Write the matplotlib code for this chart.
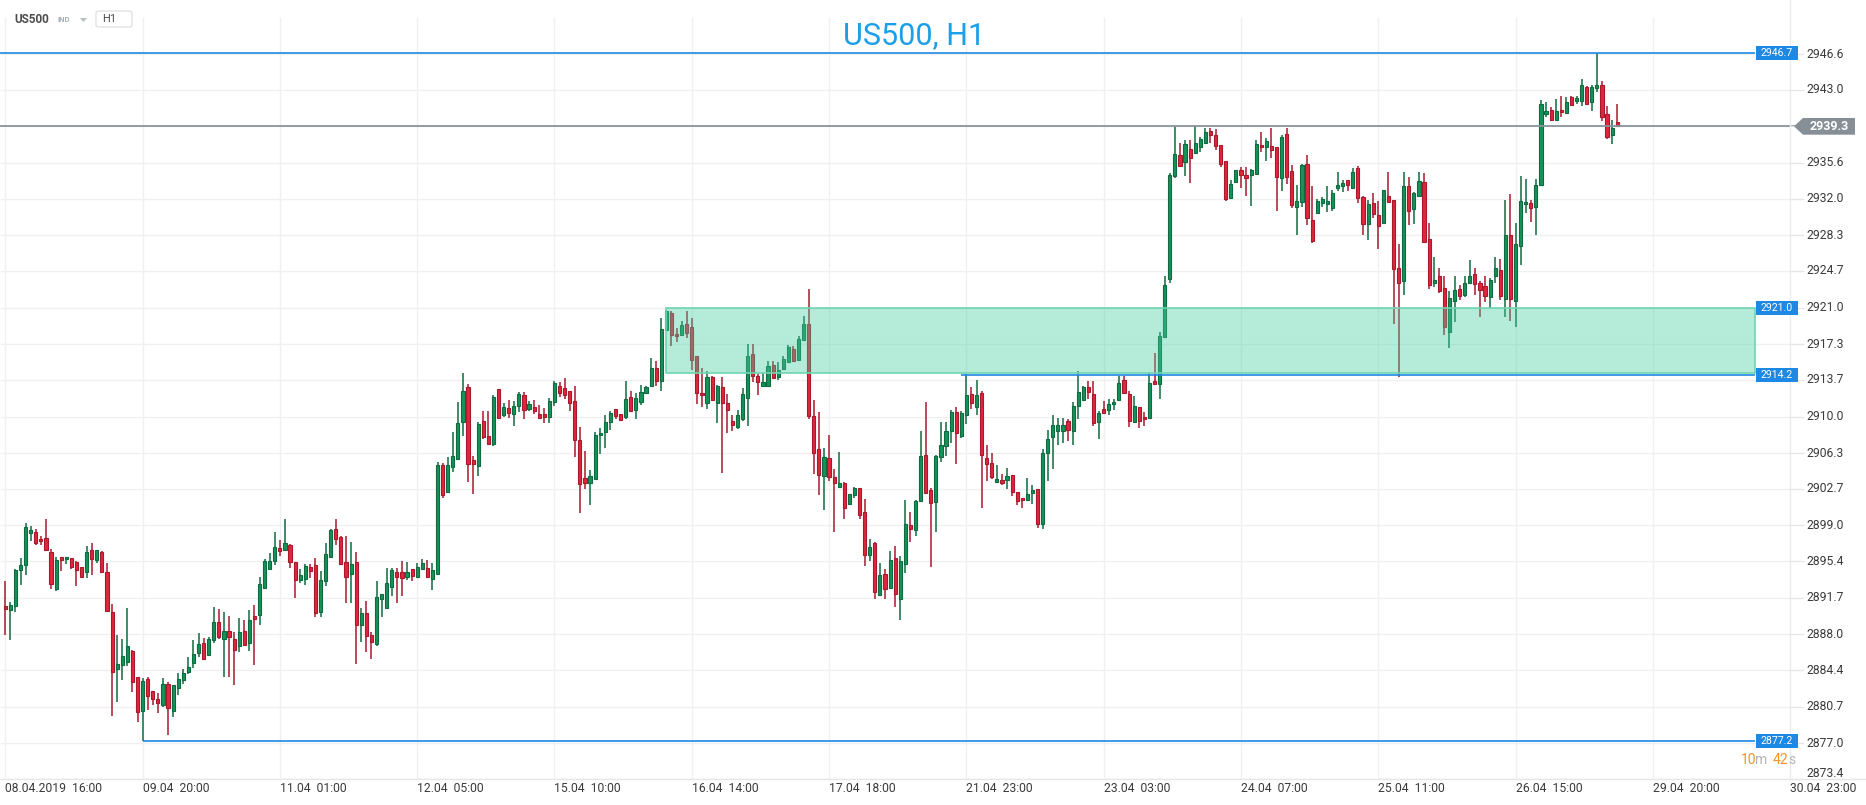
import matplotlib
matplotlib.use("Agg")
import matplotlib.pyplot as plt
import numpy as np
from matplotlib.patches import Rectangle, Polygon, FancyBboxPatch
from matplotlib.transforms import blended_transform_factory
from matplotlib.lines import Line2D

# ---------------- data (US500, H1 candles) ----------------
opens = [2890.9, 2890.5, 2890.9, 2894.5, 2895.0, 2898.2, 2898.3, 2897.6, 2897.7, 2896.3,
         2892.6, 2895.8, 2895.6, 2895.7, 2895.3, 2894.8, 2894.3, 2896.5, 2895.5, 2896.3,
         2894.3, 2890.3, 2884.5, 2884.9, 2885.2, 2886.3, 2883.7, 2880.3, 2883.5, 2882.3,
         2881.5, 2880.9, 2883.0, 2880.3, 2882.6, 2883.4, 2884.2, 2885.1, 2886.1, 2887.1,
         2885.9, 2887.4, 2889.3, 2887.5, 2888.3, 2887.5, 2886.8, 2888.3, 2887.1, 2889.9,
         2890.0, 2892.7, 2894.6, 2895.4, 2896.7, 2896.5, 2897.0, 2895.3, 2893.5, 2893.6,
         2894.8, 2895.0, 2890.3, 2893.4, 2895.8, 2898.6, 2897.8, 2895.3, 2894.1, 2895.3,
         2889.0, 2890.2, 2887.9, 2887.0, 2891.6, 2890.7, 2892.8, 2894.3, 2894.3, 2893.8,
         2894.6, 2893.8, 2894.6, 2894.7, 2893.6, 2894.1, 2905.1, 2902.4, 2904.9, 2905.7,
         2909.4, 2913.0, 2905.6, 2905.0, 2909.5, 2908.0, 2907.2, 2912.8, 2910.2, 2910.9,
         2910.3, 2911.1, 2912.2, 2910.8, 2911.0, 2910.3, 2910.3, 2910.0, 2911.5, 2913.1,
         2912.9, 2912.6, 2911.6, 2907.6, 2903.8, 2903.3, 2903.7, 2908.1, 2908.4, 2909.4,
         2910.8, 2910.3, 2910.0, 2912.0, 2910.7, 2911.5, 2912.4, 2913.1, 2914.9, 2913.6,
         2918.7, 2920.5, 2918.3, 2918.2, 2919.3, 2919.0, 2916.1, 2912.4, 2911.4, 2914.0,
         2911.4, 2913.0, 2911.4, 2909.5, 2908.9, 2909.7, 2911.9, 2916.3, 2914.1, 2913.1,
         2913.1, 2915.2, 2914.0, 2914.8, 2915.5, 2916.8, 2915.7, 2917.7, 2919.3, 2910.1,
         2906.7, 2904.0, 2905.8, 2903.9, 2902.9, 2903.3, 2901.2, 2902.1, 2902.8, 2900.4,
         2896.0, 2897.2, 2892.0, 2894.1, 2892.7, 2895.7, 2891.6, 2895.1, 2899.0, 2898.5,
         2901.5, 2906.1, 2902.6, 2901.4, 2905.9, 2907.0, 2908.5, 2910.5, 2908.0, 2910.2,
         2912.3, 2911.0, 2912.4, 2905.8, 2905.3, 2903.4, 2903.6, 2903.6, 2904.1, 2902.4,
         2901.8, 2901.6, 2902.3, 2902.7, 2899.1, 2906.3, 2907.9, 2908.5, 2908.5, 2909.5,
         2908.5, 2911.1, 2911.7, 2913.0, 2912.3, 2909.4, 2910.8, 2910.7, 2911.3, 2911.7,
         2913.7, 2912.3, 2909.4, 2911.0, 2910.0, 2909.9, 2913.6, 2913.3, 2918.0, 2923.9,
         2934.3, 2936.4, 2935.7, 2937.0, 2936.6, 2937.2, 2937.6, 2938.8, 2938.4, 2937.4,
         2935.8, 2932.1, 2933.7, 2934.9, 2934.4, 2934.4, 2934.5, 2937.4, 2937.2, 2937.3,
         2937.2, 2934.1, 2938.5, 2934.8, 2931.2, 2931.7, 2935.5, 2929.8, 2930.5, 2931.6,
         2931.5, 2931.1, 2933.1, 2933.3, 2933.9, 2933.1, 2935.1, 2932.2, 2929.4, 2931.6,
         2930.3, 2929.5, 2932.3, 2931.9, 2925.0, 2923.7, 2933.3, 2931.0, 2932.3, 2933.7,
         2927.9, 2923.5, 2924.2, 2923.0, 2918.5, 2921.7, 2922.9, 2922.3, 2923.5, 2924.4,
         2923.5, 2923.2, 2922.1, 2924.2, 2924.8, 2921.9, 2928.3, 2921.7, 2927.2, 2931.5,
         2931.6, 2931.2, 2933.4, 2940.5, 2941.0, 2939.9, 2940.9, 2940.6, 2942.3, 2941.9,
         2941.9, 2943.3, 2941.8, 2943.2, 2943.5, 2940.5, 2938.4, 2939.7]
highs = [2893.4, 2891.3, 2894.6, 2895.7, 2899.2, 2898.9, 2898.6, 2897.9, 2899.7, 2896.6,
         2895.8, 2895.8, 2895.8, 2895.7, 2895.4, 2894.8, 2896.9, 2897.2, 2896.5, 2896.4,
         2895.2, 2891.1, 2887.9, 2887.5, 2890.7, 2886.4, 2883.7, 2883.6, 2883.7, 2882.3,
         2882.1, 2883.6, 2883.2, 2882.9, 2884.1, 2884.5, 2885.7, 2887.4, 2888.1, 2887.6,
         2887.7, 2890.8, 2890.6, 2890.3, 2889.9, 2888.2, 2889.7, 2889.5, 2890.5, 2891.0,
         2893.8, 2895.6, 2896.2, 2898.3, 2897.5, 2899.7, 2897.1, 2895.3, 2894.6, 2895.1,
         2895.1, 2895.7, 2894.4, 2897.2, 2898.6, 2899.7, 2897.9, 2897.9, 2897.3, 2896.3,
         2890.7, 2891.4, 2888.2, 2893.4, 2892.1, 2894.7, 2894.7, 2894.7, 2895.4, 2895.3,
         2894.6, 2895.2, 2895.6, 2895.5, 2895.2, 2905.4, 2905.3, 2905.9, 2908.4, 2911.5,
         2914.4, 2913.3, 2906.0, 2909.4, 2910.6, 2910.6, 2912.2, 2912.8, 2911.4, 2911.7,
         2911.6, 2912.5, 2912.5, 2911.6, 2911.7, 2911.2, 2910.9, 2911.9, 2913.6, 2913.5,
         2913.9, 2912.6, 2913.1, 2908.9, 2906.5, 2904.6, 2908.4, 2908.8, 2910.2, 2910.6,
         2910.8, 2910.3, 2913.6, 2912.6, 2912.4, 2913.2, 2913.1, 2915.9, 2915.6, 2919.9,
         2920.8, 2920.7, 2918.9, 2919.6, 2920.7, 2919.9, 2916.1, 2914.9, 2914.6, 2914.1,
         2913.2, 2914.0, 2912.3, 2910.2, 2910.7, 2912.9, 2917.3, 2917.3, 2914.3, 2914.4,
         2915.6, 2915.6, 2915.5, 2916.1, 2917.2, 2917.1, 2918.1, 2920.1, 2922.9, 2911.7,
         2910.5, 2906.8, 2908.1, 2904.7, 2906.4, 2903.4, 2902.2, 2902.9, 2902.8, 2901.7,
         2897.6, 2897.3, 2895.2, 2894.6, 2896.4, 2896.9, 2895.9, 2901.6, 2900.4, 2901.6,
         2908.5, 2911.5, 2902.8, 2906.1, 2909.4, 2909.4, 2910.7, 2911.0, 2910.6, 2914.3,
         2913.0, 2913.7, 2912.6, 2907.1, 2906.3, 2905.1, 2904.2, 2904.8, 2904.1, 2902.4,
         2901.8, 2903.8, 2903.1, 2902.7, 2906.7, 2908.6, 2910.2, 2909.9, 2909.9, 2909.7,
         2911.5, 2914.6, 2913.1, 2913.6, 2913.6, 2910.6, 2911.6, 2911.8, 2911.8, 2914.1,
         2914.1, 2912.6, 2912.1, 2911.0, 2910.5, 2914.4, 2916.4, 2918.5, 2924.2, 2934.6,
         2939.2, 2937.6, 2937.9, 2937.9, 2939.3, 2938.2, 2939.1, 2939.1, 2939.0, 2937.4,
         2935.8, 2933.9, 2934.9, 2935.2, 2935.2, 2935.0, 2937.9, 2938.7, 2938.1, 2939.1,
         2937.2, 2938.4, 2939.1, 2935.4, 2933.4, 2935.5, 2936.4, 2933.3, 2932.0, 2932.2,
         2933.3, 2932.9, 2934.7, 2933.9, 2933.9, 2935.1, 2935.3, 2932.3, 2931.9, 2932.6,
         2931.8, 2932.9, 2934.7, 2931.9, 2927.4, 2934.7, 2934.2, 2932.7, 2934.7, 2934.6,
         2929.5, 2926.1, 2925.0, 2924.2, 2922.7, 2924.2, 2923.3, 2924.2, 2925.8, 2925.0,
         2923.7, 2924.2, 2924.0, 2926.1, 2925.9, 2931.9, 2932.5, 2929.5, 2934.3, 2934.0,
         2931.9, 2934.0, 2942.0, 2941.8, 2941.3, 2942.1, 2942.4, 2942.3, 2942.4, 2942.4,
         2944.1, 2943.4, 2943.5, 2946.7, 2943.9, 2941.4, 2939.9, 2941.6]
lows = [2887.9, 2887.4, 2890.3, 2893.0, 2894.0, 2897.4, 2897.0, 2897.0, 2896.4, 2892.6,
        2892.4, 2894.4, 2895.1, 2894.6, 2892.9, 2893.7, 2893.7, 2894.0, 2895.2, 2894.2,
        2890.3, 2879.8, 2881.2, 2883.4, 2884.8, 2882.2, 2879.2, 2877.2, 2880.4, 2880.9,
        2880.1, 2880.7, 2877.8, 2879.7, 2881.9, 2883.0, 2884.0, 2884.6, 2885.7, 2885.4,
        2885.8, 2887.1, 2887.5, 2883.7, 2883.7, 2882.9, 2886.2, 2886.8, 2886.3, 2884.9,
        2889.0, 2892.6, 2894.5, 2895.0, 2895.9, 2896.4, 2894.7, 2891.7, 2893.2, 2893.0,
        2893.7, 2889.8, 2889.8, 2892.9, 2895.7, 2897.0, 2895.0, 2891.2, 2891.2, 2885.0,
        2887.2, 2886.2, 2885.5, 2886.8, 2889.8, 2890.7, 2891.9, 2891.2, 2891.9, 2893.5,
        2893.4, 2893.7, 2894.6, 2893.7, 2892.5, 2894.0, 2901.8, 2902.3, 2904.4, 2905.7,
        2908.0, 2903.4, 2902.2, 2904.0, 2907.7, 2907.2, 2907.0, 2909.8, 2910.0, 2909.9,
        2909.0, 2910.5, 2909.8, 2910.6, 2910.3, 2909.9, 2909.3, 2909.3, 2911.1, 2912.0,
        2911.8, 2910.6, 2905.9, 2900.3, 2902.7, 2901.1, 2903.7, 2906.2, 2906.8, 2908.6,
        2909.8, 2909.6, 2909.8, 2910.5, 2909.8, 2911.2, 2912.3, 2913.0, 2913.1, 2912.6,
        2918.7, 2917.1, 2917.5, 2918.2, 2917.9, 2914.7, 2911.3, 2911.0, 2910.8, 2911.6,
        2909.3, 2904.3, 2908.3, 2908.5, 2908.7, 2909.5, 2909.0, 2913.5, 2912.2, 2913.1,
        2913.1, 2913.9, 2913.7, 2914.7, 2915.5, 2915.5, 2915.7, 2917.7, 2909.7, 2904.2,
        2902.1, 2900.6, 2903.5, 2898.3, 2902.9, 2899.7, 2901.1, 2901.8, 2899.7, 2894.9,
        2895.4, 2891.6, 2892.0, 2891.6, 2892.7, 2890.8, 2889.5, 2894.2, 2897.3, 2897.9,
        2901.5, 2902.2, 2894.8, 2898.3, 2905.4, 2906.0, 2907.3, 2905.2, 2907.8, 2909.2,
        2910.8, 2910.2, 2900.8, 2903.5, 2903.7, 2903.4, 2903.1, 2902.7, 2902.0, 2901.1,
        2900.8, 2901.5, 2901.2, 2898.7, 2898.6, 2903.5, 2904.7, 2907.1, 2907.3, 2907.5,
        2907.1, 2909.8, 2911.6, 2911.8, 2909.0, 2907.7, 2910.4, 2910.2, 2910.7, 2911.6,
        2912.3, 2908.9, 2909.3, 2908.8, 2909.0, 2909.8, 2913.2, 2911.8, 2917.9, 2923.5,
        2934.1, 2935.2, 2934.3, 2933.6, 2936.5, 2936.7, 2937.5, 2937.6, 2936.9, 2935.2,
        2931.8, 2932.1, 2933.6, 2933.1, 2932.3, 2931.3, 2934.5, 2936.7, 2935.8, 2936.1,
        2930.8, 2932.8, 2933.5, 2931.1, 2928.3, 2931.2, 2929.3, 2927.5, 2930.5, 2931.2,
        2930.7, 2930.8, 2932.8, 2932.7, 2932.8, 2933.1, 2931.6, 2928.3, 2927.8, 2930.0,
        2926.9, 2929.5, 2931.7, 2919.3, 2914.0, 2922.3, 2929.3, 2929.4, 2932.3, 2927.6,
        2922.9, 2923.1, 2922.5, 2918.2, 2916.9, 2919.5, 2921.8, 2922.1, 2923.4, 2922.3,
        2920.0, 2921.6, 2921.0, 2923.5, 2921.8, 2920.0, 2919.6, 2919.0, 2925.3, 2930.5,
        2929.6, 2928.3, 2933.3, 2940.2, 2939.8, 2939.9, 2940.2, 2940.6, 2941.4, 2941.6,
        2941.4, 2941.5, 2940.8, 2942.8, 2939.8, 2938.0, 2937.5, 2939.2]
closes = [2890.6, 2891.0, 2894.5, 2895.0, 2898.8, 2898.5, 2897.2, 2897.4, 2896.5, 2893.1,
          2895.5, 2895.5, 2895.8, 2894.8, 2894.5, 2893.8, 2896.3, 2895.6, 2896.5, 2894.3,
          2890.4, 2884.2, 2885.0, 2885.8, 2886.8, 2883.2, 2880.2, 2883.3, 2881.8, 2881.5,
          2881.1, 2883.0, 2880.6, 2882.9, 2883.5, 2884.1, 2884.7, 2886.0, 2887.0, 2885.5,
          2887.5, 2889.3, 2887.7, 2888.3, 2887.7, 2886.4, 2888.2, 2886.9, 2889.5, 2889.6,
          2893.1, 2895.4, 2895.4, 2896.8, 2896.4, 2897.2, 2895.3, 2893.5, 2894.0, 2894.9,
          2894.4, 2890.2, 2893.5, 2896.1, 2898.5, 2897.6, 2895.1, 2893.8, 2895.1, 2889.0,
          2890.2, 2887.8, 2887.2, 2891.8, 2892.1, 2893.2, 2894.5, 2893.8, 2893.7, 2894.3,
          2893.9, 2894.8, 2895.2, 2893.8, 2894.5, 2905.1, 2902.1, 2905.1, 2906.0, 2909.3,
          2912.6, 2905.2, 2905.2, 2909.2, 2907.9, 2907.2, 2912.0, 2909.9, 2911.0, 2910.4,
          2911.1, 2912.3, 2910.7, 2911.3, 2910.6, 2909.9, 2910.0, 2911.6, 2913.4, 2912.4,
          2912.2, 2911.4, 2907.6, 2903.2, 2903.3, 2904.0, 2908.1, 2908.3, 2909.4, 2910.4,
          2910.1, 2909.6, 2911.8, 2910.6, 2911.9, 2912.5, 2913.0, 2914.9, 2913.6, 2918.8,
          2920.7, 2918.2, 2918.1, 2919.2, 2918.4, 2915.7, 2912.4, 2912.2, 2914.0, 2911.7,
          2913.1, 2911.4, 2910.7, 2909.1, 2910.2, 2912.3, 2916.1, 2914.1, 2913.5, 2913.5,
          2915.1, 2913.9, 2914.7, 2915.8, 2917.0, 2915.6, 2917.8, 2919.3, 2910.1, 2906.3,
          2904.1, 2905.9, 2903.9, 2903.3, 2903.3, 2900.8, 2902.2, 2902.8, 2900.1, 2896.0,
          2896.8, 2892.3, 2894.0, 2892.6, 2895.5, 2892.1, 2895.4, 2899.1, 2898.6, 2901.5,
          2906.0, 2902.3, 2901.3, 2906.0, 2907.1, 2908.5, 2910.5, 2908.3, 2910.4, 2912.2,
          2911.4, 2912.2, 2906.1, 2905.2, 2903.9, 2903.7, 2903.3, 2904.0, 2902.4, 2901.5,
          2901.6, 2902.2, 2902.6, 2899.1, 2906.3, 2907.7, 2909.1, 2909.1, 2909.1, 2908.6,
          2911.1, 2912.5, 2913.0, 2912.5, 2909.3, 2910.4, 2910.4, 2911.3, 2911.5, 2913.4,
          2912.4, 2909.5, 2911.1, 2909.5, 2909.8, 2913.4, 2913.3, 2918.1, 2923.3, 2934.4,
          2936.5, 2935.3, 2937.5, 2936.1, 2937.6, 2938.0, 2938.7, 2938.4, 2937.3, 2935.5,
          2932.0, 2933.5, 2934.9, 2934.4, 2934.1, 2934.9, 2937.5, 2937.2, 2937.8, 2936.9,
          2934.2, 2938.2, 2934.2, 2931.4, 2931.8, 2935.4, 2930.0, 2927.7, 2931.8, 2932.0,
          2931.8, 2932.6, 2933.4, 2933.6, 2933.4, 2934.7, 2932.1, 2929.4, 2931.5, 2930.4,
          2929.2, 2932.9, 2931.7, 2924.9, 2923.5, 2933.3, 2930.8, 2932.6, 2933.8, 2927.6,
          2923.3, 2923.8, 2922.7, 2919.0, 2922.0, 2922.8, 2922.2, 2923.5, 2924.2, 2923.4,
          2922.8, 2922.2, 2923.8, 2925.0, 2922.2, 2928.3, 2921.9, 2927.4, 2931.8, 2931.7,
          2931.1, 2933.4, 2941.6, 2940.8, 2939.9, 2940.8, 2940.7, 2941.8, 2941.5, 2942.2,
          2943.5, 2941.6, 2943.3, 2943.5, 2940.2, 2938.2, 2939.1, 2939.3]

x_labels = ["08.04.2019  16:00", "09.04  20:00", "11.04  01:00", "12.04  05:00",
            "15.04  10:00", "16.04  14:00", "17.04  18:00", "21.04  23:00",
            "23.04  03:00", "24.04  07:00", "25.04  11:00", "26.04  15:00",
            "29.04  20:00", "30.04  23:00"]
bars_per_label = 27
y_ticks = [2946.6, 2943.0, 2939.3, 2935.6, 2932.0, 2928.3, 2924.7, 2921.0, 2917.3,
           2913.7, 2910.0, 2906.3, 2902.7, 2899.0, 2895.4, 2891.7, 2888.0, 2884.4,
           2880.7, 2877.0, 2873.4]

level_high = 2946.7
level_low = 2877.2
level_low_start = 27          # bar index where the low line starts
level_mid = 2914.2
level_mid_start = 188
zone_low, zone_high = 2914.2, 2921.0
zone_start = 130
current_price = 2939.3

# ---------------- figure geometry ----------------
W, H = 1866, 805
plt.rcParams['font.family'] = ['Roboto', 'DejaVu Sans']
fig = plt.figure(figsize=(W / 100, H / 100), dpi=100)
fig.patch.set_facecolor('white')

def fx(px):
    return px / W

def fy(py):
    return 1 - py / H

ax_top, ax_bot, ax_right = 17, 779, 1790
ax = fig.add_axes([0, 1 - ax_bot / H, ax_right / W, (ax_bot - ax_top) / H])
x0_px, bar_px = 5.3, 5.085
xmin = -x0_px / bar_px
xmax = (ax_right - x0_px) / bar_px
ymin, ymax = 2873.40, 2950.34
ax.set_xlim(xmin, xmax)
ax.set_ylim(ymin, ymax)
ax.axis('off')

def px_to_idx(px):
    return (px - x0_px) / bar_px

grid_c = '#f0f0f0'
ax.hlines(y_ticks, xmin, xmax, color=grid_c, lw=1, zorder=0)
vx = np.arange(0, xmax, bars_per_label)
ax.vlines(vx, ymin, ymax, color=grid_c, lw=1, zorder=0)

# ---------------- candles ----------------
o = np.array(opens); h = np.array(highs); l = np.array(lows); c = np.array(closes)
idx = np.arange(len(o))
up = c >= o
g_face, g_edge = '#16925a', '#0e6b40'
r_face, r_edge = '#e0253d', '#a8192c'
edge = np.where(up, g_edge, r_edge)
face = np.where(up, g_face, r_face)
ax.vlines(idx, l, h, colors=edge, lw=1.1, zorder=2)
bottom = np.minimum(o, c)
height = np.maximum(np.abs(c - o), 0.12)
ax.bar(idx, height, bottom=bottom, width=0.62, color=face, edgecolor=edge,
       linewidth=0.8, zorder=3)

# ---------------- zone & levels ----------------
zone_end = px_to_idx(1754.7)
ax.add_patch(Rectangle((zone_start, zone_low + 0.2), zone_end - zone_start,
                       zone_high - zone_low - 0.2, facecolor='#46cda2', alpha=0.4,
                       edgecolor='none', zorder=5))
ax.add_patch(Rectangle((zone_start, zone_low + 0.2), zone_end - zone_start,
                       zone_high - zone_low - 0.2, fill=False,
                       edgecolor='#6fd5b0', lw=1.2, zorder=6))
blue = '#1e88e5'
ax.hlines(level_high, xmin, zone_end, color=blue, lw=1.2, zorder=6)
ax.hlines(level_low, level_low_start, zone_end, color=blue, lw=1.2, zorder=6)
ax.hlines(level_mid, level_mid_start, zone_end, color=blue, lw=1.2, zorder=6)
ax.hlines(current_price, xmin, px_to_idx(1795), color='#8a9399', lw=1.3,
          zorder=6, clip_on=False)

trans = blended_transform_factory(fig.transFigure, ax.transData)
box_h = 14 / 9.904
for v in [level_high, zone_high, level_mid, level_low]:
    fig.add_artist(Rectangle((fx(1756), v - box_h / 2), fx(42), box_h,
                             transform=trans, facecolor='#1e88e5', edgecolor='none',
                             zorder=10))
    fig.text(fx(1777), v, f"{v:.1f}", transform=trans, ha='center', va='center',
             color='white', fontsize=7.6, zorder=11)

# right price axis
sep = Line2D([fx(ax_right), fx(ax_right)], [fy(0), fy(ax_bot)], color='#ececec', lw=1)
fig.add_artist(sep)
fig.add_artist(Line2D([0, 1], [fy(ax_bot), fy(ax_bot)], color='#e6e6e6', lw=1))
for t in y_ticks:
    fig.add_artist(Line2D([fx(ax_right), fx(1803)], [t, t], transform=trans,
                          color='#e6e6e6', lw=1))
    if abs(t - current_price) < 0.05:
        continue
    ty = t + 0.55 if t == y_ticks[-1] else t
    fig.text(fx(1806), ty, f"{t:.1f}", transform=trans, ha='left', va='center',
             color='#3a3a3a', fontsize=8.7)

# current price arrow label
ah = 16.7 / 9.904 / 2
arrow = Polygon([(fx(1794), current_price), (fx(1803), current_price + ah),
                 (fx(1855), current_price + ah), (fx(1855), current_price - ah),
                 (fx(1803), current_price - ah)], closed=True, transform=trans,
                facecolor='#868f96', edgecolor='none', zorder=10)
fig.add_artist(arrow)
fig.text(fx(1829), current_price, f"{current_price:.1f}", transform=trans,
         ha='center', va='center', color='white', fontsize=9, fontweight='bold',
         zorder=11)

# x labels
for k, lab in enumerate(x_labels):
    px = x0_px + bar_px * bars_per_label * k
    fig.text(fx(px), fy(788), lab, ha='left', va='center', color='#3a3a3a',
             fontsize=8.7)

# countdown
fig.text(fx(1740.5), fy(760), "10", color='#f7931e', fontsize=10, ha='left', va='center')
fig.text(fx(1755), fy(760), "m", color='#b5b5b5', fontsize=10, ha='left', va='center')
fig.text(fx(1772.5), fy(760), "42", color='#f7931e', fontsize=10, ha='left', va='center')
fig.text(fx(1788), fy(760), "s", color='#b5b5b5', fontsize=10, ha='left', va='center')

# title
fig.text(fx(914), fy(36), "US500, H1", ha='center', va='center', fontsize=22,
         color='#1a9fe8')

# header controls
fig.text(fx(14), fy(19.5), "US500", ha='left', va='center', fontsize=8.5,
         fontweight='bold', color='#4d4d4d')
fig.text(fx(58), fy(19.5), "IND", ha='left', va='center', fontsize=5.5,
         fontweight='bold', color='#a9b0b8')
for tx in (80, 121):
    fig.add_artist(Polygon([(fx(tx), fy(18)), (fx(tx + 7), fy(18)), (fx(tx + 3.5), fy(22))],
                           closed=True, facecolor='#b8bdc2', edgecolor='none'))
fig.add_artist(FancyBboxPatch((fx(96), fy(27)), fx(36), 16 / H,
                              boxstyle='round,pad=0,rounding_size=0.002',
                              facecolor='white', edgecolor='#dcdcdc', lw=0.8,
                              transform=fig.transFigure))
fig.text(fx(102), fy(19.5), "H1", ha='left', va='center', fontsize=8, color='#4d4d4d')

fig.savefig("out.png", dpi=100, facecolor='white')
